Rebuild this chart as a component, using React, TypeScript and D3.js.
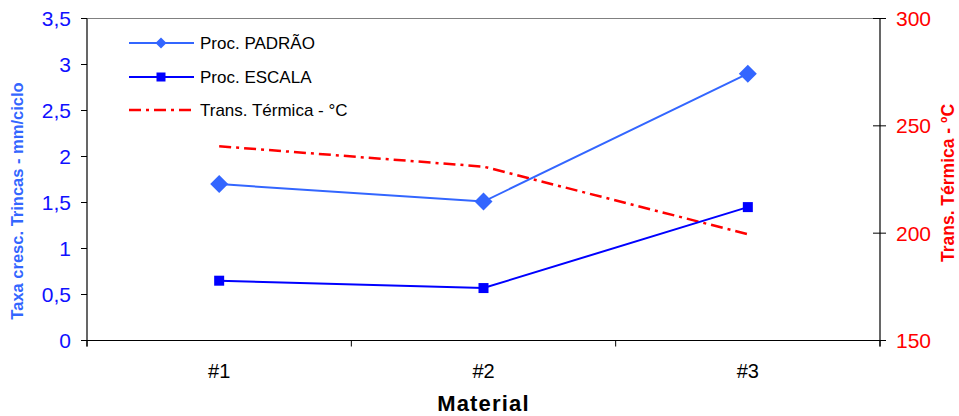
import React from "react";
import * as d3 from "d3";

const categories = ["#1", "#2", "#3"];
const padrao = [1.7, 1.51, 2.9];
const escala = [0.65, 0.57, 1.45];
const transTermica = [240.5, 231, 199.5];
const leftTicks = [0, 0.5, 1, 1.5, 2, 2.5, 3, 3.5];
const rightTicks = [150, 200, 250, 300];
const legendLabels = ["Proc. PADRÃO", "Proc. ESCALA", "Trans. Térmica - °C"];

const W = 959;
const H = 416;
const L = 87;
const R = 880;
const T = 18.5;
const B = 340.5;
const FONT = "'Liberation Sans', Arial, sans-serif";

const C_PADRAO = "#3366FF";
const C_ESCALA = "#0000FF";
const C_RED = "#FF0000";

export default function App() {
  const x = d3.scaleBand<string>().domain(categories).range([L, R]);
  const cx = (c: string) => (x(c) as number) + x.bandwidth() / 2;
  const yL = d3.scaleLinear().domain([0, 3.5]).range([B, T]);
  const yR = d3.scaleLinear().domain([150, 300]).range([B, T]);

  const lineL = d3
    .line<number>()
    .x((_, i) => cx(categories[i]))
    .y((d) => yL(d));
  const lineR = d3
    .line<number>()
    .x((_, i) => cx(categories[i]))
    .y((d) => yR(d));

  const boundaries = categories.map((c) => x(c) as number).concat([R]);
  const dash = "12,5,3,5";

  const diamond = (px: number, py: number, r: number) =>
    `M${px},${py - r}L${px + r},${py}L${px},${py + r}L${px - r},${py}Z`;

  const legendY = [43, 77, 110];

  return (
    <div style={{ position: "fixed", left: 0, top: 0, width: W, height: H, background: "#fff" }}>
      <svg width={W} height={H} style={{ display: "block" }} fontFamily={FONT}>
        <rect x={0} y={0} width={W} height={H} fill="#fff" />
        {/* top border */}
        <line x1={L} x2={R} y1={T} y2={T} stroke="#808080" strokeWidth={1.2} />
        {/* x axis */}
        <line x1={L} x2={R} y1={B} y2={B} stroke="#000" strokeWidth={1.2} />
        {boundaries.map((b, i) => (
          <line key={"xt" + i} x1={b} x2={b} y1={B} y2={B + 6} stroke="#000" strokeWidth={1} />
        ))}
        {categories.map((c) => (
          <text key={c} x={cx(c)} y={378} fontSize={20} textAnchor="middle" fill="#000">
            {c}
          </text>
        ))}
        <text x={(L + R) / 2} y={411} fontSize={22} fontWeight="bold" textAnchor="middle" letterSpacing={1.2} fill="#000">
          Material
        </text>

        {/* left axis */}
        <line x1={L} x2={L} y1={T} y2={B + 6} stroke="#000" strokeWidth={1.2} />
        {leftTicks.map((t) => (
          <g key={"l" + t}>
            <line x1={L - 6} x2={L} y1={yL(t)} y2={yL(t)} stroke="#000" strokeWidth={1} />
            <text x={71} y={yL(t)} dy="0.36em" fontSize={21} textAnchor="end" fill="#1010FF">
              {String(t).replace(".", ",")}
            </text>
          </g>
        ))}
        <text
          transform={`translate(23,201) rotate(-90)`}
          fontSize={16.5}
          fontWeight="bold"
          textAnchor="middle"
          fill={C_PADRAO}
        >
          Taxa cresc. Trincas - mm/ciclo
        </text>

        {/* right axis */}
        <line x1={R} x2={R} y1={T} y2={B + 6} stroke="#000" strokeWidth={1.2} />
        {rightTicks.map((t) => (
          <g key={"r" + t}>
            <line x1={R - 7} x2={R + 6} y1={yR(t)} y2={yR(t)} stroke="#000" strokeWidth={1} />
            <text x={896} y={yR(t)} dy="0.36em" fontSize={21} textAnchor="start" fill={C_RED}>
              {t}
            </text>
          </g>
        ))}
        <text
          transform={`translate(954,183) rotate(-90)`}
          fontSize={17.5}
          fontWeight="bold"
          textAnchor="middle"
          fill={C_RED}
        >
          Trans. Térmica - ºC
        </text>

        {/* series */}
        <path d={lineR(transTermica) || ""} fill="none" stroke={C_RED} strokeWidth={2.5} strokeDasharray={dash} />
        <path d={lineL(padrao) || ""} fill="none" stroke={C_PADRAO} strokeWidth={2} />
        <path d={lineL(escala) || ""} fill="none" stroke={C_ESCALA} strokeWidth={2} />
        {padrao.map((v, i) => (
          <path key={"pd" + i} d={diamond(cx(categories[i]), yL(v), 9)} fill={C_PADRAO} />
        ))}
        {escala.map((v, i) => (
          <rect key={"es" + i} x={cx(categories[i]) - 5} y={yL(v) - 5} width={10} height={10} fill={C_ESCALA} />
        ))}

        {/* legend */}
        {legendLabels.map((lab, i) => {
          const ly = legendY[i];
          return (
            <g key={lab}>
              {i === 0 && (
                <>
                  <line x1={129} x2={194} y1={ly} y2={ly} stroke={C_PADRAO} strokeWidth={2} />
                  <path d={diamond(161, ly, 5.5)} fill={C_PADRAO} />
                </>
              )}
              {i === 1 && (
                <>
                  <line x1={129} x2={194} y1={ly} y2={ly} stroke={C_ESCALA} strokeWidth={2} />
                  <rect x={156.5} y={ly - 4.5} width={9} height={9} fill={C_ESCALA} />
                </>
              )}
              {i === 2 && (
                <line x1={129} x2={194} y1={ly} y2={ly} stroke={C_RED} strokeWidth={2.5} strokeDasharray={dash} />
              )}
              <text x={200} y={ly} dy="0.36em" fontSize={17} fill="#000">
                {lab}
              </text>
            </g>
          );
        })}
      </svg>
    </div>
  );
}
